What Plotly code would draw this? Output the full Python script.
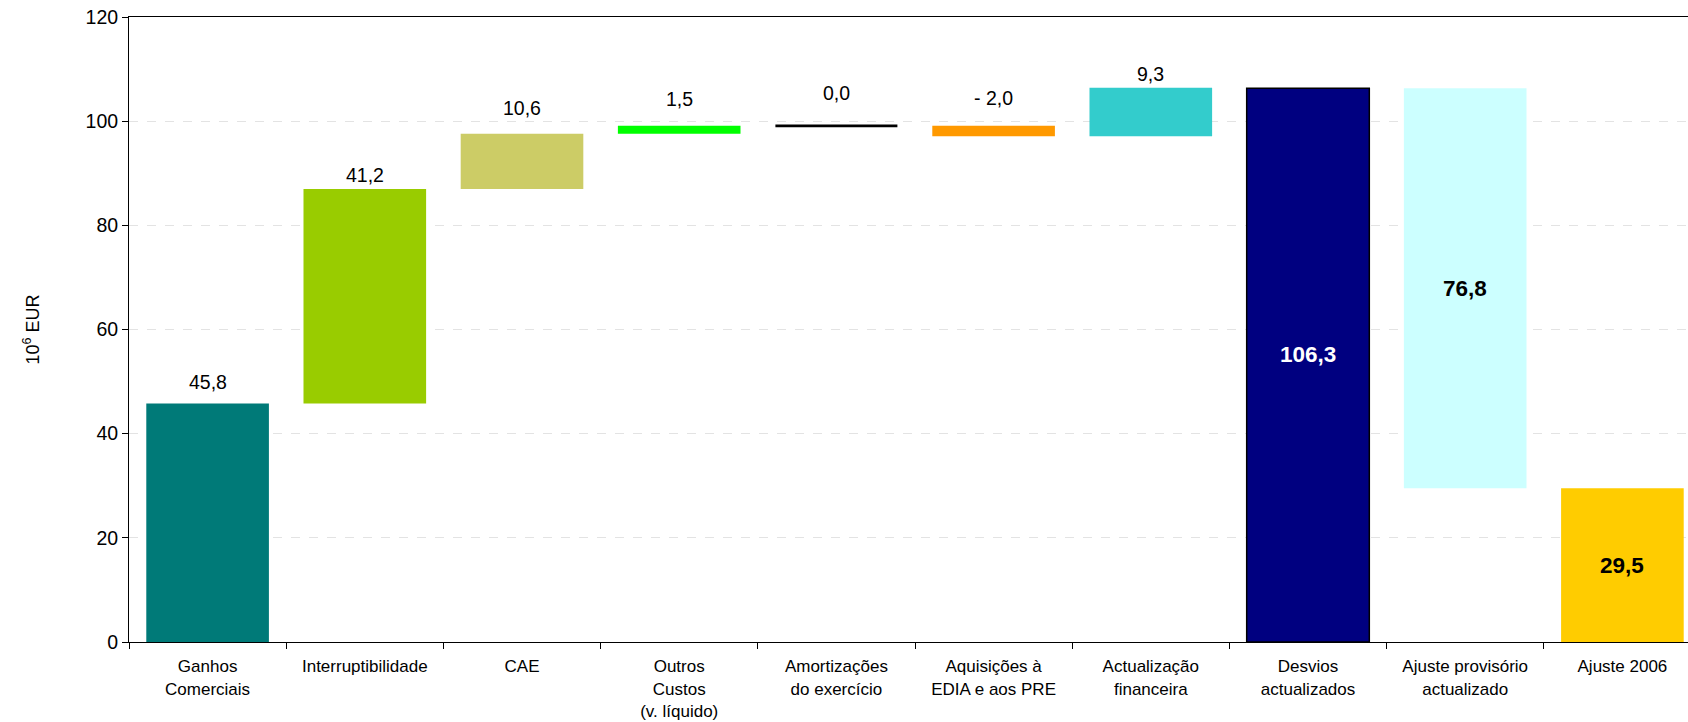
import plotly.graph_objects as go

# Waterfall of tariff deviations (10^6 EUR)
categories = [
    "Ganhos<br>Comerciais",
    "Interruptibilidade",
    "CAE",
    "Outros<br>Custos<br>(v. líquido)",
    "Amortizações<br>do exercício",
    "Aquisições à<br>EDIA e aos PRE",
    "Actualização<br>financeira",
    "Desvios<br>actualizados",
    "Ajuste provisório<br>actualizado",
    "Ajuste 2006",
]
step_values = [45.8, 41.2, 10.6, 1.5, 0.0, -2.0, 9.3]
desvios_total = 106.3
ajuste_provisorio = 76.8
ajuste_2006 = 29.5

# bases: running sum for the steps, then the totals
bases = []
running = 0.0
for v in step_values:
    bases.append(running)
    running += v
values = step_values + [desvios_total, ajuste_provisorio, ajuste_2006]
bases += [0.0, desvios_total - ajuste_provisorio, 0.0]

colors = ["#007A78", "#99CC00", "#CCCC66", "#00FF00", "#000000",
          "#FF9900", "#33CCCC", "#000080", "#CCFFFF", "#FFCC00"]
outline = [0, 0, 0, 0, 0, 0, 0, 1.5, 0, 0]
# vertical pixel lift of the step labels above each bar top
label_lift = [21, 14, 26, 27, 33, 28, 14]
# pixel shift of labels inside the total bars
inside_shift = [11, 0, 0]
inside_color = ["#FFFFFF", "#000000", "#000000"]

FONT = "Liberation Sans, Arial, sans-serif"
BAR_W = 0.78
# line-ew marker length is 1.4x its size; 122 px matches the bar width
FLAT_SIZE = 122 / 1.4


def fmt(v):
    s = f"{abs(v):.1f}".replace(".", ",")
    return ("- " + s) if v < 0 else s


fig = go.Figure()

bar_idx = [i for i, v in enumerate(values) if v != 0]
fig.add_trace(go.Bar(
    x=[categories[i] for i in bar_idx],
    y=[values[i] for i in bar_idx],
    base=[bases[i] for i in bar_idx],
    width=BAR_W,
    marker=dict(color=[colors[i] for i in bar_idx],
                line=dict(color="#000000", width=[outline[i] for i in bar_idx])),
    hoverinfo="skip",
    showlegend=False,
))

# zero-valued step drawn as a flat line at its level
zero_idx = [i for i, v in enumerate(values) if v == 0]
fig.add_trace(go.Scatter(
    x=[categories[i] for i in zero_idx],
    y=[bases[i] + values[i] for i in zero_idx],
    mode="markers",
    marker=dict(symbol="line-ew", size=FLAT_SIZE,
                line=dict(color="#000000", width=2.6)),
    hoverinfo="skip",
    showlegend=False,
))

annotations = []
for i, v in enumerate(step_values):
    top = max(bases[i], bases[i] + v)
    annotations.append(dict(
        x=categories[i], y=top, xref="x", yref="y",
        text=fmt(v), showarrow=False, yanchor="middle",
        yshift=label_lift[i],
        font=dict(family=FONT, size=19.5, color="#000000"),
    ))
for k, i in enumerate(range(len(step_values), len(values))):
    annotations.append(dict(
        x=categories[i], y=bases[i] + values[i] / 2, xref="x", yref="y",
        text="<b>" + fmt(values[i]) + "</b>", showarrow=False,
        yanchor="middle", yshift=inside_shift[k],
        font=dict(family=FONT, size=22.5, color=inside_color[k]),
    ))
annotations.append(dict(
    x=-97 / 1559, y=0.5, xref="paper", yref="paper",
    text="10<sup>6</sup> EUR", textangle=-90, showarrow=False,
    xanchor="center", yanchor="middle",
    font=dict(family=FONT, size=18, color="#000000"),
))

fig.update_layout(
    width=1688, height=722,
    margin=dict(l=129, r=0, t=17, b=80),
    paper_bgcolor="#FFFFFF", plot_bgcolor="#FFFFFF",
    bargap=0.22,
    annotations=annotations,
    font=dict(family=FONT, color="#000000"),
    xaxis=dict(
        type="category",
        categoryorder="array", categoryarray=categories,
        range=[-0.5, 9.5 - 13 / 157.2],
        showline=True, linecolor="#000000", linewidth=1, mirror=True,
        ticks="outside", tickson="boundaries", ticklen=6,
        tickcolor="#000000", tickwidth=1,
        ticklabelstandoff=9,
        tickfont=dict(family=FONT, size=17, color="#000000"),
        showgrid=False, zeroline=False,
    ),
    yaxis=dict(
        range=[0, 120], dtick=20,
        showline=True, linecolor="#000000", linewidth=1,
        ticks="outside", ticklen=6, tickcolor="#000000", tickwidth=1,
        tickfont=dict(family=FONT, size=19.5, color="#000000"),
        showgrid=True, gridcolor="#E3E3E3", griddash="dash", gridwidth=1,
        zeroline=False,
    ),
)

fig.write_html("out.html")
